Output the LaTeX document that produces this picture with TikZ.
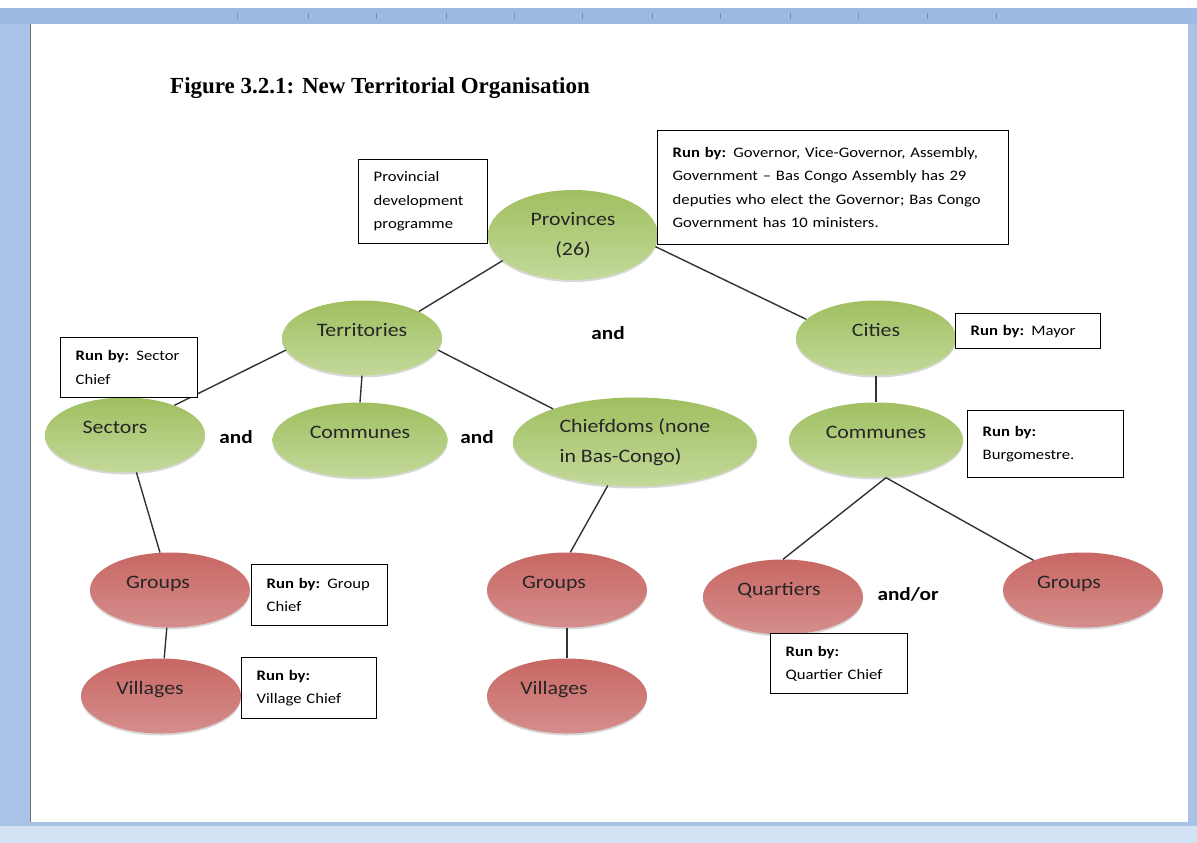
\documentclass[tikz,border=0pt]{standalone}
\usepackage{fontspec}
\setmainfont{Carlito}[FakeStretch=1.15]
\newfontfamily\titlefont{Liberation Serif}
\usetikzlibrary{shapes.geometric,shadows}
\definecolor{leafmid}{HTML}{98B955}
\definecolor{leaftop}{HTML}{A0BF60}
\definecolor{leafbot}{HTML}{C3D99A}
\definecolor{brickmid}{HTML}{C0504D}
\definecolor{bricktop}{HTML}{C86764}
\definecolor{brickbot}{HTML}{D58E8C}
\definecolor{framebg}{HTML}{A9C3E6}
\definecolor{rulerbg}{HTML}{9DBBE2}
\definecolor{statusbg}{HTML}{D3E2F4}

\begin{document}
\begin{tikzpicture}[x=1pt,y=-1pt,
	blob/.style={
		ellipse, minimum width=160pt, minimum height=75pt, inner sep=0pt,
		align=center, text=black!85,
		font=\fontsize{19}{30}\selectfont,
		drop shadow={opacity=0.3, shadow xshift=0pt, shadow yshift=-2pt}
	},
	greenblob/.style={blob, top color=leaftop, middle color=leafmid, bottom color=leafbot},
	redblob/.style={blob, top color=bricktop, middle color=brickmid, bottom color=brickbot},
	lifted/.style={text depth=16pt},
	leftish/.style={execute at end node={\hspace*{#1}}},
	runbox/.style={
		draw=black, line width=1.4pt, fill=white, anchor=north west,
		align=left, inner xsep=15pt, inner ysep=4pt,
		font=\fontsize{14.5}{23.5}\selectfont
	},
	andtext/.style={font=\bfseries\fontsize{18.5}{20}\selectfont},
	link/.style={draw=black!80, line width=1.4pt}
]
\useasboundingbox (0,0) rectangle (1197,843);

% window round the page
\fill[framebg] (0,8) rectangle (1197,843);
\fill[rulerbg] (0,8) rectangle (1197,24);
\foreach \t in {237,308,376,446,514,582,652,720,790,858,927,996}
	\draw[black!45, line width=1pt] (\t,13) -- (\t,19);
\fill[white] (30,24) rectangle (1188,822);
\draw[black!55] (30,24) -- (30,822);
\fill[statusbg] (0,826) rectangle (1197,843);

\node[anchor=west, inner sep=0pt, font=\titlefont\bfseries\fontsize{23}{26}\selectfont] (title) at (170,88) {Figure 3.2.1: New Territorial Organisation};

% levels
\node[greenblob, minimum width=170pt, minimum height=90pt] (prov) at (573,235) {Provinces\\(26)};
\node[greenblob, lifted] (terr) at (362,338) {Territories};
\node[greenblob, lifted] (city) at (876,338) {Cities};
\node[greenblob, lifted, leftish=20pt] (sect) at (125,435) {Sectors};
\node[greenblob, lifted, minimum width=175pt] (comL) at (360,440) {Communes};
\node[greenblob, align=left, minimum width=244pt, minimum height=89pt] (chief) at (635,442) {Chiefdoms (none\\in Bas-Congo)};
\node[greenblob, lifted, minimum width=174pt] (comR) at (876,440) {Communes};
\node[redblob, lifted, leftish=24pt] (grpL) at (170,590) {Groups};
\node[redblob, lifted, leftish=22pt] (vilL) at (161,696) {Villages};
\node[redblob, lifted, leftish=26pt] (grpM) at (567,590) {Groups};
\node[redblob, lifted, leftish=26pt] (vilM) at (567,696) {Villages};
\node[redblob, lifted, leftish=8pt] (quart) at (783,597) {Quartiers};
\node[redblob, lifted, leftish=28pt] (grpR) at (1083,590) {Groups};

\node[andtext] (and1) at (608,333) {and};
\node[andtext] (and2) at (236,437) {and};
\node[andtext] (and3) at (477,437) {and};
\node[andtext] (andor) at (908,594) {and/or};

% connectors
\draw[link] (prov.200) -- (terr.25);
\draw[link] (prov.352) -- (city.165);
\draw[link] (terr.189) -- (sect.31);
\draw[link] (terr.south) -- (comL.north);
\draw[link] (terr.351) -- (chief.158);
\draw[link] (city.south) -- (comR.north);
\draw[link] (sect.287) -- (grpL.105);
\draw[link] (grpL) -- (vilL);
\draw[link] (chief.238) -- (grpM.85);
\draw[link] (grpM) -- (vilM);
\coordinate (split) at ([xshift=10pt]comR.south);
\draw[link] (split) -- (quart.north);
\draw[link] (split) -- (grpR.149);

% who runs what
\node[runbox, text width=99pt, minimum height=84pt] (devbox) at (358,159) {Provincial\\development\\programme};
\node[runbox, text width=321pt, minimum height=114pt] (govbox) at (657,130) {\textbf{Run by:} Governor, Vice-Governor, Assembly,\\Government -- Bas Congo Assembly has 29\\deputies who elect the Governor; Bas Congo\\Government has 10 ministers.};
\node[runbox, text width=107pt, minimum height=60pt] (sectbox) at (60,337) {\textbf{Run by:} Sector\\Chief};
\node[runbox, text width=115pt, minimum height=35pt] (mayorbox) at (955,313) {\textbf{Run by:} Mayor};
\node[runbox, text width=126pt, minimum height=67pt] (burgbox) at (967,410) {\textbf{Run by:}\\Burgomestre.};
\node[runbox, text width=106pt, minimum height=61pt] (grpbox) at (251,564) {\textbf{Run by:} Group\\Chief};
\node[runbox, text width=105pt, minimum height=61pt] (vilbox) at (241,657) {\textbf{Run by:}\\Village Chief};
\node[runbox, text width=107pt, minimum height=60pt] (quartbox) at (770,633) {\textbf{Run by:}\\Quartier Chief};
\end{tikzpicture}
\end{document}
